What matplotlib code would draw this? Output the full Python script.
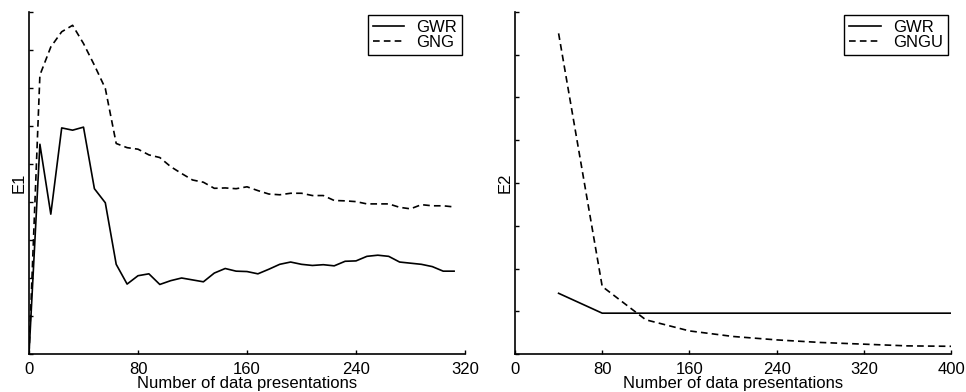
import matplotlib.pyplot as plt

plt.rcParams['font.family'] = ['Liberation Sans', 'DejaVu Sans']

# left panel: E1 against number of data presentations
x_left = [0, 8, 16, 24, 32, 40, 48, 56, 64, 72, 80, 88, 96, 104, 112, 120, 128, 136,
          144, 152, 160, 168, 176, 184, 192, 200, 208, 216, 224, 232, 240, 248, 256,
          264, 272, 280, 288, 296, 304, 312]
gwr_e1 = [0.0, 5.52, 3.68, 5.95, 5.89, 5.97, 4.35, 3.98, 2.36, 1.84, 2.06, 2.11, 1.83,
          1.93, 2.00, 1.95, 1.90, 2.13, 2.25, 2.18, 2.17, 2.11, 2.23, 2.36, 2.42, 2.36,
          2.33, 2.35, 2.32, 2.44, 2.45, 2.57, 2.60, 2.57, 2.42, 2.39, 2.36, 2.30, 2.18, 2.18]
gng_e1 = [0.0, 7.34, 8.08, 8.48, 8.65, 8.17, 7.60, 6.99, 5.54, 5.43, 5.39, 5.24, 5.17,
          4.93, 4.75, 4.58, 4.52, 4.36, 4.37, 4.35, 4.40, 4.30, 4.21, 4.19, 4.23, 4.23,
          4.17, 4.17, 4.04, 4.03, 4.01, 3.95, 3.95, 3.95, 3.86, 3.82, 3.93, 3.90, 3.90, 3.87]

# right panel: E2
x_right_gwr = [40, 80, 400]
gwr_e2 = [1.42, 0.955, 0.955]
x_right_gngu = [40, 80, 120, 160, 200, 240, 280, 320, 360, 400]
gngu_e2 = [7.50, 1.58, 0.80, 0.54, 0.41, 0.33, 0.27, 0.23, 0.19, 0.18]

fig = plt.figure(figsize=(9.66, 3.92), dpi=100)
ax1 = fig.add_axes([29 / 966, 1 - 354 / 392, 436 / 966, 342 / 392])
ax2 = fig.add_axes([515 / 966, 1 - 354 / 392, 436 / 966, 342 / 392])

dash = (4, 2.5)


def style(ax, xmax, ymax, xticks, ylabel):
    ax.set_xlim(0, xmax)
    ax.set_ylim(0, ymax)
    ax.set_xticks(xticks)
    ax.set_yticks(range(0, ymax + 1))
    ax.set_yticklabels([])
    ax.tick_params(direction='in', length=3, width=1, labelsize=12)
    ax.tick_params(axis='x', pad=6)
    ax.tick_params(axis='y', pad=1)
    for s in ['top', 'right']:
        ax.spines[s].set_visible(False)
    for s in ['left', 'bottom']:
        ax.spines[s].set_linewidth(1.2)
    ax.set_xlabel('Number of data presentations', fontsize=12, labelpad=-1)
    ax.set_ylabel(ylabel, fontsize=12, labelpad=1)
    leg = ax.legend(loc='upper right', fontsize=12, handlelength=1.9, fancybox=False,
                    framealpha=1, edgecolor='black', borderpad=0.3, labelspacing=0.0,
                    handletextpad=0.7, borderaxespad=0.2)
    leg.get_frame().set_linewidth(1.0)


ax1.plot(x_left, gwr_e1, color='black', lw=1.2, label='GWR')
ax1.plot(x_left, gng_e1, color='black', lw=1.2, dashes=dash, label='GNG')
style(ax1, 320, 9, [0, 80, 160, 240, 320], 'E1')

ax2.plot(x_right_gwr, gwr_e2, color='black', lw=1.2, label='GWR')
ax2.plot(x_right_gngu, gngu_e2, color='black', lw=1.2, dashes=dash, label='GNGU')
style(ax2, 400, 8, [0, 80, 160, 240, 320, 400], 'E2')

fig.savefig('out.png', dpi=100)
